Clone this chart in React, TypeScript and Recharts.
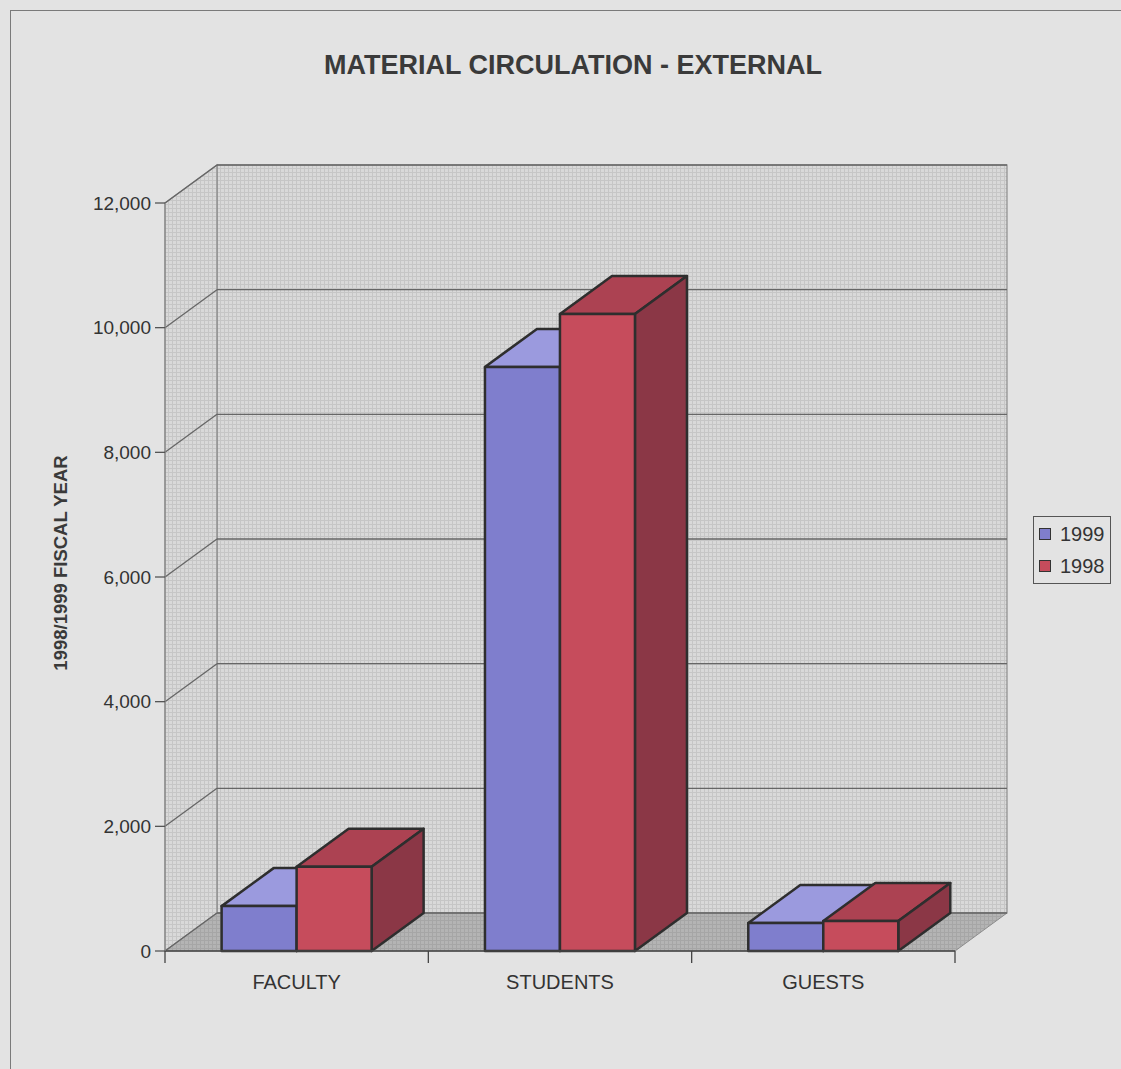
import React from "react";
import {
  Bar,
  BarChart,
  CartesianGrid,
  Legend,
  ReferenceArea,
  XAxis,
  YAxis,
} from "recharts";

// circulation counts per patron group
const categories = ["FACULTY", "STUDENTS", "GUESTS"];
const seriesNames = ["1999", "1998"];
const series1999 = [720, 9370, 450];
const series1998 = [1350, 10220, 480];
const yTicks = [0, 2000, 4000, 6000, 8000, 10000, 12000];

const data = categories.map((name, i) => ({
  name,
  y1999: series1999[i],
  y1998: series1998[i],
}));

// depth offset of the 3D box (right / up)
const DX = 52;
const DY = -38;
const FONT = '"Liberation Sans", Arial, Helvetica, sans-serif';
const X_TICK = 12;
const X_TICK_MARGIN = 12;

const makeBox = (front: string, top: string, side: string) => (props: any) => {
  const { x, y, width, height } = props;
  if (width == null || height == null || width <= 0) return <g />;
  const r = x + width;
  const b = y + height;
  return (
    <g stroke="#2e2e2e" strokeWidth={2.5} strokeLinejoin="round">
      <polygon
        points={`${x},${y} ${x + DX},${y + DY} ${r + DX},${y + DY} ${r},${y}`}
        fill={top}
      />
      <polygon
        points={`${r},${y} ${r + DX},${y + DY} ${r + DX},${b + DY} ${r},${b}`}
        fill={side}
      />
      <rect x={x} y={y} width={width} height={height} fill={front} />
    </g>
  );
};

// back wall, left wall and floor of the box
const Walls = (props: any) => {
  const { x, y, width, height } = props;
  const r = x + width;
  const b = y + height;
  return (
    <g>
      <defs>
        <pattern id="mesh" width="4" height="4" patternUnits="userSpaceOnUse">
          <rect width="4" height="4" fill="#d9d9d9" />
          <path d="M0 0.5H4M0.5 0V4" stroke="#c6c6c6" strokeWidth="1" />
        </pattern>
        <pattern id="floorMesh" width="4" height="4" patternUnits="userSpaceOnUse">
          <rect width="4" height="4" fill="#b4b4b4" />
          <path d="M0 0.5H4M0.5 0V4" stroke="#a6a6a6" strokeWidth="1" />
        </pattern>
      </defs>
      <rect
        x={x + DX}
        y={y + DY}
        width={width}
        height={height}
        fill="url(#mesh)"
        stroke="#8c8c8c"
        strokeWidth={1.2}
      />
      <polygon
        points={`${x},${y} ${x + DX},${y + DY} ${x + DX},${b + DY} ${x},${b}`}
        fill="url(#mesh)"
        stroke="#8c8c8c"
        strokeWidth={1.2}
      />
      <polygon
        points={`${x},${b} ${x + DX},${b + DY} ${r + DX},${b + DY} ${r},${b}`}
        fill="url(#floorMesh)"
        stroke="#8c8c8c"
        strokeWidth={1}
      />
    </g>
  );
};

// horizontal grid line: runs up the side wall, then across the back wall
const gridLine = (p: any) => {
  const { x1, x2, y1, index } = p;
  return (
    <g key={`grid-${index}`} stroke="#666" strokeWidth={1.3} fill="none">
      <line x1={x1} y1={y1} x2={x1 + DX} y2={y1 + DY} />
      <line x1={x1 + DX} y1={y1 + DY} x2={x2 + DX} y2={y1 + DY} />
    </g>
  );
};

const CategoryTick = (props: any) => {
  const { x, y, payload, index, visibleTicksCount } = props;
  const off = payload?.offset ?? 0;
  const axisY = y - X_TICK - X_TICK_MARGIN;
  const last = index === visibleTicksCount - 1;
  return (
    <g>
      <line x1={x - off} y1={axisY} x2={x - off} y2={axisY + X_TICK} stroke="#444" strokeWidth={1.3} />
      {last && (
        <line x1={x + off} y1={axisY} x2={x + off} y2={axisY + X_TICK} stroke="#444" strokeWidth={1.3} />
      )}
      <text
        x={x}
        y={y}
        dy="0.71em"
        textAnchor="middle"
        fontFamily={FONT}
        fontSize={20}
        fill="#333"
      >
        {payload.value}
      </text>
    </g>
  );
};

const LegendBox = ({ payload }: any) => {
  const items = [...(payload || [])].sort(
    (a: any, b: any) => seriesNames.indexOf(a.value) - seriesNames.indexOf(b.value)
  );
  return (
    <div
      style={{
        border: "1.5px solid #555",
        padding: "1px 0 1px 5px",
        fontFamily: FONT,
        fontSize: 20,
        color: "#333",
        background: "#e3e3e3",
        boxSizing: "border-box",
      }}
    >
      {items.map((item: any) => (
        <div key={item.value} style={{ display: "flex", alignItems: "center", height: 32 }}>
          <span
            style={{
              display: "inline-block",
              width: 10,
              height: 10,
              background: item.color,
              border: "1.5px solid #333",
              marginRight: 9,
            }}
          />
          {item.value}
        </div>
      ))}
    </div>
  );
};

export default function App() {
  return (
    <div
      style={{
        position: "absolute",
        left: 0,
        top: 0,
        width: 1121,
        height: 1069,
        background: "#e3e3e3",
        overflow: "hidden",
      }}
    >
      <div
        style={{
          position: "absolute",
          left: 10,
          top: 10,
          width: 1130,
          height: 1080,
          borderTop: "1.5px solid #7a7a7a",
          borderLeft: "1.5px solid #7a7a7a",
        }}
      />
      <div
        style={{
          position: "absolute",
          left: 273,
          top: 52,
          width: 600,
          textAlign: "center",
          fontFamily: FONT,
          fontWeight: "bold",
          fontSize: 27,
          lineHeight: "26px",
          color: "#3a3a3a",
        }}
      >
        MATERIAL CIRCULATION - EXTERNAL
      </div>
      <div
        style={{
          position: "absolute",
          left: 61 - 150,
          top: 563 - 11,
          width: 300,
          height: 22,
          lineHeight: "22px",
          textAlign: "center",
          transform: "rotate(-90deg)",
          fontFamily: FONT,
          fontWeight: "bold",
          fontSize: 18.5,
          color: "#3a3a3a",
        }}
      >
        1998/1999 FISCAL YEAR
      </div>
      <BarChart
        width={1121}
        height={1069}
        data={data}
        margin={{ top: 203, right: 166, bottom: 68, left: 65 }}
        barCategoryGap="21.5%"
        barGap={0}
        style={{ position: "absolute", left: 0, top: 0 }}
      >
        <ReferenceArea
          y1={0}
          y2={12000}
          ifOverflow="visible"
          shape={Walls}
          zIndex={-200}
        />
        <CartesianGrid vertical={false} horizontal={gridLine} />
        <XAxis
          dataKey="name"
          height={50}
          axisLine={{ stroke: "#444", strokeWidth: 1.5 }}
          tickLine={false}
          tickSize={X_TICK}
          tickMargin={X_TICK_MARGIN}
          tick={CategoryTick}
          interval={0}
        />
        <YAxis
          width={100}
          domain={[0, 12000]}
          ticks={yTicks}
          interval={0}
          tickFormatter={(v: number) => v.toLocaleString("en-US")}
          axisLine={{ stroke: "#8a8a8a", strokeWidth: 1.2 }}
          tickLine={{ stroke: "#555", strokeWidth: 1.3 }}
          tickSize={10}
          tickMargin={4}
          tick={{ fontFamily: FONT, fontSize: 19, fill: "#333" }}
        />
        <Legend
          layout="vertical"
          align="center"
          verticalAlign="middle"
          wrapperStyle={{ left: 1033, top: 516, width: 78 }}
          content={<LegendBox />}
        />
        <Bar
          dataKey="y1999"
          name="1999"
          fill="#7f7ecd"
          isAnimationActive={false}
          shape={makeBox("#7f7ecd", "#9b9ade", "#5f5ea8")}
        />
        <Bar
          dataKey="y1998"
          name="1998"
          fill="#c64c5c"
          isAnimationActive={false}
          shape={makeBox("#c64c5c", "#ac4252", "#8b3746")}
        />
      </BarChart>
    </div>
  );
}
